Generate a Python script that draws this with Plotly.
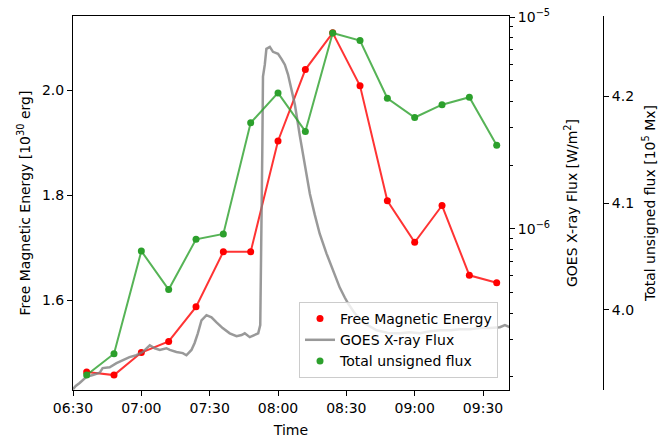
import pandas as pd
import plotly.graph_objects as go

# ---- data ----
sample_times = ["06:36", "06:48", "07:00", "07:12", "07:24", "07:36", "07:48", "08:00",
                "08:12", "08:24", "08:36", "08:48", "09:00", "09:12", "09:24", "09:36"]
free_energy = [1.463, 1.457, 1.500, 1.521, 1.587, 1.692, 1.692, 1.903,
               2.039, 2.109, 2.008, 1.789, 1.710, 1.780, 1.647, 1.633]
unsigned_flux = [3.939, 3.959, 4.055, 4.019, 4.066, 4.071, 4.175, 4.203,
                 4.167, 4.259, 4.252, 4.198, 4.180, 4.192, 4.199, 4.154]

# GOES X-ray flux: minutes after 06:30 and flux in W/m^2
goes_minutes = [0, 1.2, 2.9, 5.9, 8.7, 11.7, 13.0, 16.1, 19.1, 21.8, 24.8, 27.8, 30.6,
                33.7, 35.9, 38.1, 41.0, 42.5, 45.4, 48.2, 49.8, 52.0, 53.4, 54.8, 56.4,
                58.6, 60.8, 63.0, 65.7, 68.8, 71.8, 74.0, 75.4, 77.6, 79.8, 81.3, 82.2,
                82.7, 83.1, 83.4, 84.2, 84.9, 86.4, 87.8, 90.0, 91.5, 93.0, 94.4, 95.9,
                97.4, 99.6, 101.8, 104.0, 106.1, 108.3, 111.3, 114.2, 117.1, 119.3, 120.8,
                123.7, 127.2, 133.3, 139.1, 143.5, 147.9, 152.3, 156.7, 161.0, 165.4,
                169.8, 174.2, 178.6, 183.0, 187.4, 189.6, 191.7]
goes_flux = [1.75e-7, 1.81e-7, 1.87e-7, 2.00e-7, 2.04e-7, 2.09e-7, 2.20e-7, 2.22e-7,
             2.32e-7, 2.40e-7, 2.48e-7, 2.53e-7, 2.62e-7, 2.82e-7, 2.73e-7, 2.68e-7,
             2.73e-7, 2.68e-7, 2.62e-7, 2.59e-7, 2.53e-7, 2.68e-7, 2.89e-7, 3.21e-7,
             3.70e-7, 3.91e-7, 3.82e-7, 3.62e-7, 3.40e-7, 3.21e-7, 3.11e-7, 3.15e-7,
             3.21e-7, 3.08e-7, 3.15e-7, 3.21e-7, 3.51e-7, 7.88e-7, 2.32e-6, 5.23e-6,
             5.96e-6, 7.08e-6, 7.23e-6, 6.85e-6, 6.70e-6, 6.35e-6, 5.96e-6, 5.35e-6,
             4.59e-6, 3.86e-6, 2.74e-6, 1.98e-6, 1.46e-6, 1.17e-6, 9.48e-7, 7.64e-7,
             6.35e-7, 5.28e-7, 4.74e-7, 4.44e-7, 3.99e-7, 3.62e-7, 3.32e-7, 3.21e-7,
             3.21e-7, 3.25e-7, 3.21e-7, 3.28e-7, 3.32e-7, 3.32e-7, 3.36e-7, 3.36e-7,
             3.40e-7, 3.40e-7, 3.43e-7, 3.51e-7, 3.43e-7]

base_day = "2000-01-01"
x_ticks = ["06:30", "07:00", "07:30", "08:00", "08:30", "09:00", "09:30"]

# ---- build ----
t_samples = pd.to_datetime([f"{base_day} {t}" for t in sample_times])
t0 = pd.Timestamp(f"{base_day} 06:30")
t_goes = [t0 + pd.Timedelta(minutes=m) for m in goes_minutes]

FONT = "DejaVu Sans"
RED_LINE = "rgba(255,0,0,0.8)"
GREEN = "#2ca02c"
GREEN_LINE = "rgba(44,160,44,0.8)"
GRAY_LINE = "rgba(128,128,128,0.8)"

fig = go.Figure()
fig.add_trace(go.Scatter(x=t_samples, y=free_energy, mode="lines",
                         line=dict(color=RED_LINE, width=2), showlegend=False,
                         yaxis="y"))
fig.add_trace(go.Scatter(x=t_samples, y=free_energy, mode="markers",
                         marker=dict(color="red", size=7), name="Free Magnetic Energy",
                         yaxis="y"))
fig.add_trace(go.Scatter(x=t_goes, y=goes_flux, mode="lines",
                         line=dict(color=GRAY_LINE, width=2.5), name="GOES X-ray Flux",
                         yaxis="y2"))
fig.add_trace(go.Scatter(x=t_samples, y=unsigned_flux, mode="lines",
                         line=dict(color=GREEN_LINE, width=2), showlegend=False,
                         yaxis="y3"))
fig.add_trace(go.Scatter(x=t_samples, y=unsigned_flux, mode="markers",
                         marker=dict(color=GREEN, size=7), name="Total unsigned flux",
                         yaxis="y3"))

tickfont = dict(family=FONT, size=14, color="black")
titlefont = dict(family=FONT, size=14, color="black")

minor_vals = [k * 1e-7 for k in range(2, 10)] + [k * 1e-6 for k in range(2, 10)]

fig.update_layout(
    width=666, height=441,
    margin=dict(l=73, r=63, t=16, b=51, autoexpand=False),
    paper_bgcolor="white", plot_bgcolor="white",
    font=dict(family=FONT, size=14, color="black"),
    xaxis=dict(
        domain=[0, 436 / 530], automargin=False,
        range=[f"{base_day} 06:30:00", f"{base_day} 09:41:24"],
        tickvals=[f"{base_day} {t}" for t in x_ticks],
        ticktext=x_ticks,
        ticks="outside", ticklen=5, tickwidth=1, tickcolor="black",
        showline=True, linecolor="black", linewidth=1, mirror=True,
        showgrid=False, zeroline=False, tickfont=tickfont,
        title=dict(text="Time", font=titlefont, standoff=10),
    ),
    yaxis=dict(
        range=[1.4286, 2.141], automargin=False,
        tickvals=[1.6, 1.8, 2.0], ticktext=["1.6", "1.8", "2.0"],
        ticks="outside", ticklen=5, tickwidth=1, tickcolor="black",
        showline=True, linecolor="black", linewidth=1, mirror=True,
        showgrid=False, zeroline=False, tickfont=tickfont,
        title=dict(text="Free Magnetic Energy [10<sup>30</sup> erg]", font=titlefont, standoff=8),
    ),
    yaxis2=dict(
        type="log", overlaying="y", side="right", anchor="x", automargin=False,
        range=[-6.761, -4.995],
        tickvals=[1e-6, 1e-5], ticktext=["10<sup>−6</sup>", "10<sup>−5</sup>"],
        ticks="outside", ticklen=5, tickwidth=1, tickcolor="black",
        minor=dict(tickmode="array", tickvals=minor_vals, ticks="outside",
                   ticklen=3, tickwidth=1, tickcolor="black", showgrid=False),
        showline=True, linecolor="black", linewidth=1,
        showgrid=False, zeroline=False, tickfont=tickfont,
        title=dict(text="GOES X-ray Flux [W/m<sup>2</sup>]", font=titlefont, standoff=18),
    ),
    yaxis3=dict(
        overlaying="y", side="right", anchor="free", position=1.0, automargin=False,
        range=[3.925, 4.275],
        tickvals=[4.0, 4.1, 4.2], ticktext=["4.0", "4.1", "4.2"],
        ticks="outside", ticklen=5, tickwidth=1, tickcolor="black",
        showline=True, linecolor="black", linewidth=1,
        showgrid=False, zeroline=False, tickfont=tickfont,
        title=dict(text="Total unsigned flux [10<sup>5</sup> Mx]", font=titlefont, standoff=12),
    ),
    legend=dict(
        x=(498 - 73) / 530, y=(390 - 378) / 374, xanchor="right", yanchor="bottom",
        bgcolor="rgba(255,255,255,0.8)", bordercolor="#cccccc", borderwidth=1,
        font=dict(family=FONT, size=14, color="black"),
        itemwidth=30, tracegroupgap=0,
    ),
)

fig.write_html("out.html")
